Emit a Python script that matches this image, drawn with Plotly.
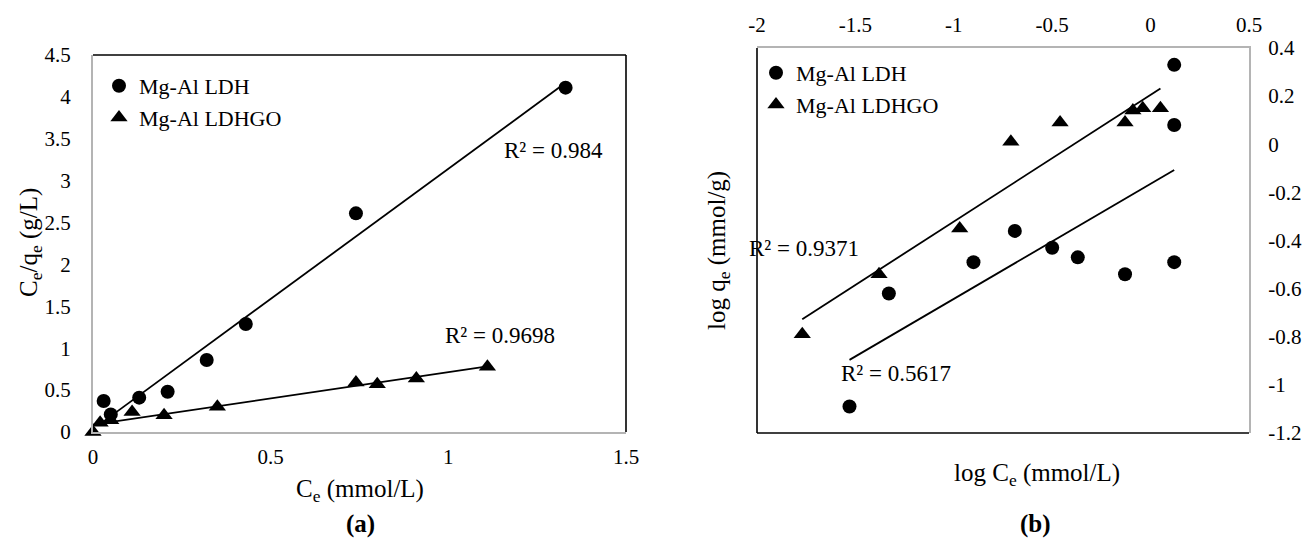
import numpy as np
import plotly.graph_objects as go

# ---------------- data (a): Langmuir plot ----------------
a_ldh_x = [0.03, 0.05, 0.13, 0.21, 0.32, 0.43, 0.74, 1.33]
a_ldh_y = [0.37, 0.21, 0.41, 0.48, 0.86, 1.29, 2.61, 4.11]
a_go_x = [0.00, 0.02, 0.05, 0.11, 0.20, 0.35, 0.74, 0.80, 0.91, 1.11]
a_go_y = [0.00, 0.11, 0.14, 0.24, 0.20, 0.30, 0.59, 0.57, 0.64, 0.78]
a_r2_labels = ["R² = 0.984", "R² = 0.9698"]

# ---------------- data (b): Freundlich plot ----------------
b_ldh_x = [-1.53, -1.33, -0.90, -0.69, -0.50, -0.37, -0.13, 0.12, 0.12, 0.12]
b_ldh_y = [-1.09, -0.62, -0.49, -0.36, -0.43, -0.47, -0.54, -0.49, 0.08, 0.33]
b_go_x = [-1.77, -1.38, -0.97, -0.71, -0.46, -0.13, -0.09, -0.04, 0.05]
b_go_y = [-0.79, -0.54, -0.35, 0.01, 0.09, 0.09, 0.14, 0.15, 0.15]
b_r2_labels = ["R² = 0.9371", "R² = 0.5617"]

series_names = ["Mg-Al LDH", "Mg-Al LDHGO"]

# ---------------- ticks ----------------
a_xticks = [0, 0.5, 1, 1.5]
a_xticktext = ["0", "0.5", "1", "1.5"]
a_yticks = [0, 0.5, 1, 1.5, 2, 2.5, 3, 3.5, 4, 4.5]
a_yticktext = ["0", "0.5", "1", "1.5", "2", "2.5", "3", "3.5", "4", "4.5"]
b_xticks = [-2, -1.5, -1, -0.5, 0, 0.5]
b_xticktext = ["-2", "-1.5", "-1", "-0.5", "0", "0.5"]
b_yticks = [-1.2, -1.0, -0.8, -0.6, -0.4, -0.2, 0, 0.2, 0.4]
b_yticktext = ["-1.2", "-1", "-0.8", "-0.6", "-0.4", "-0.2", "0", "0.2", "0.4"]

W, H = 1303, 549
FONT = "Liberation Serif, Times New Roman, serif"
FS = 21


def px_x(p):
    return p / W


def px_y(p):
    return 1 - p / H


# plot-area geometry (pixels)
A_L, A_R, A_T, A_B = 93, 626, 55, 432
B_L, B_R, B_T, B_B = 757, 1249, 48, 433

fig = go.Figure()


def trend(x, y):
    k, b = np.polyfit(x, y, 1)
    xs = np.array([min(x), max(x)])
    return xs, k * xs + b


mk_circle = dict(symbol="circle", size=14, color="black")
mk_tri = dict(symbol="triangle-up", size=15, color="black")

# (a) traces
fig.add_trace(go.Scatter(x=a_ldh_x, y=a_ldh_y, mode="markers", marker=mk_circle,
                         name=series_names[0], xaxis="x", yaxis="y", legend="legend",
                         cliponaxis=False))
fig.add_trace(go.Scatter(x=a_go_x, y=a_go_y, mode="markers", marker=mk_tri,
                         name=series_names[1], xaxis="x", yaxis="y", legend="legend",
                         cliponaxis=False))
for xs_, ys_ in (a_ldh_x, a_ldh_y), (a_go_x, a_go_y):
    tx, ty = trend(xs_, ys_)
    fig.add_trace(go.Scatter(x=tx, y=ty, mode="lines", line=dict(color="black", width=1.8),
                             showlegend=False, xaxis="x", yaxis="y", hoverinfo="skip"))

# (b) traces
fig.add_trace(go.Scatter(x=b_ldh_x, y=b_ldh_y, mode="markers", marker=mk_circle,
                         name=series_names[0], xaxis="x2", yaxis="y2", legend="legend2",
                         cliponaxis=False))
fig.add_trace(go.Scatter(x=b_go_x, y=b_go_y, mode="markers", marker=mk_tri,
                         name=series_names[1], xaxis="x2", yaxis="y2", legend="legend2",
                         cliponaxis=False))
for xs_, ys_ in (b_ldh_x, b_ldh_y), (b_go_x, b_go_y):
    tx, ty = trend(xs_, ys_)
    fig.add_trace(go.Scatter(x=tx, y=ty, mode="lines", line=dict(color="black", width=1.8),
                             showlegend=False, xaxis="x2", yaxis="y2", hoverinfo="skip"))

axis_common = dict(showgrid=False, zeroline=False, ticks="", showline=True,
                   linecolor="#b4b4b4", linewidth=2, tickfont=dict(family=FONT, size=FS, color="black"),
                   tickmode="array")

fig.update_layout(
    width=W, height=H,
    margin=dict(l=0, r=0, t=0, b=0, autoexpand=False),
    paper_bgcolor="white", plot_bgcolor="white",
    font=dict(family=FONT, size=FS, color="black"),
    xaxis=dict(domain=[px_x(A_L), px_x(A_R)], range=[0, 1.5], tickvals=a_xticks,
               ticktext=a_xticktext, anchor="y", ticklabelstandoff=5, **axis_common),
    yaxis=dict(domain=[px_y(A_B), px_y(A_T)], range=[0, 4.5], tickvals=a_yticks,
               ticktext=a_yticktext, anchor="x", ticklabelstandoff=16, **axis_common),
    xaxis2=dict(domain=[px_x(B_L), px_x(B_R)], range=[-2, 0.5], tickvals=b_xticks,
                ticktext=b_xticktext, anchor="y2", side="top", ticklabelstandoff=6, **axis_common),
    yaxis2=dict(domain=[px_y(B_B), px_y(B_T)], range=[-1.2, 0.4], tickvals=b_yticks,
                ticktext=b_yticktext, anchor="x2", side="right", ticklabelstandoff=13, **axis_common),
    legend=dict(x=px_x(99), y=px_y(65), xanchor="left", yanchor="top",
                bgcolor="rgba(0,0,0,0)", font=dict(family=FONT, size=22, color="black"),
                itemwidth=30, tracegroupgap=0),
    legend2=dict(x=px_x(756), y=px_y(52), xanchor="left", yanchor="top",
                 bgcolor="rgba(0,0,0,0)", font=dict(family=FONT, size=22, color="black"),
                 itemwidth=30, tracegroupgap=0),
    showlegend=True,
)

shapes = []
blk = dict(color="black", width=1.6)
# (a) frame: top and right black
shapes.append(dict(type="line", xref="paper", yref="paper", x0=px_x(A_L), x1=px_x(A_R),
                   y0=px_y(A_T), y1=px_y(A_T), line=blk))
shapes.append(dict(type="line", xref="paper", yref="paper", x0=px_x(A_R), x1=px_x(A_R),
                   y0=px_y(A_T), y1=px_y(A_B), line=blk))
# (b) frame: left and bottom black
shapes.append(dict(type="line", xref="paper", yref="paper", x0=px_x(B_L), x1=px_x(B_L),
                   y0=px_y(B_T), y1=px_y(B_B), line=blk))
shapes.append(dict(type="line", xref="paper", yref="paper", x0=px_x(B_L), x1=px_x(B_R),
                   y0=px_y(B_B), y1=px_y(B_B), line=blk))
fig.update_layout(shapes=shapes)

ann = []
tf = dict(family=FONT, size=23, color="black")
C = dict(showarrow=False, xanchor="center", yanchor="middle")
# R² labels
ann.append(dict(text=a_r2_labels[0], x=1.297, y=3.365, xref="x", yref="y", font=tf, **C))
ann.append(dict(text=a_r2_labels[1], x=1.146, y=1.146, xref="x", yref="y", font=tf, **C))
ann.append(dict(text=b_r2_labels[0], x=-1.761, y=-0.432, xref="x2", yref="y2", font=tf, **C))
ann.append(dict(text=b_r2_labels[1], x=-1.294, y=-0.952, xref="x2", yref="y2", font=tf, **C))
# axis titles
ttf = dict(family=FONT, size=25, color="black")
ann.append(dict(text="C<sub>e</sub> (mmol/L)", x=px_x(360), y=px_y(490), xref="paper", yref="paper",
                font=ttf, **C))
ann.append(dict(text="C<sub>e</sub>/q<sub>e</sub> (g/L)", x=px_x(30), y=px_y(243), xref="paper",
                yref="paper", font=ttf, textangle=-90, **C))
ann.append(dict(text="log C<sub>e</sub> (mmol/L)", x=px_x(1037), y=px_y(474), xref="paper", yref="paper",
                font=ttf, **C))
ann.append(dict(text="log q<sub>e</sub> (mmol/g)", x=px_x(718), y=px_y(250), xref="paper",
                yref="paper", font=ttf, textangle=-90, **C))
# panel labels
ann.append(dict(text="<b>(a)</b>", x=px_x(360), y=px_y(524), xref="paper", yref="paper",
                font=ttf, **C))
ann.append(dict(text="<b>(b)</b>", x=px_x(1035), y=px_y(524), xref="paper", yref="paper",
                font=ttf, **C))
fig.update_layout(annotations=ann)

fig.write_html("out.html")
